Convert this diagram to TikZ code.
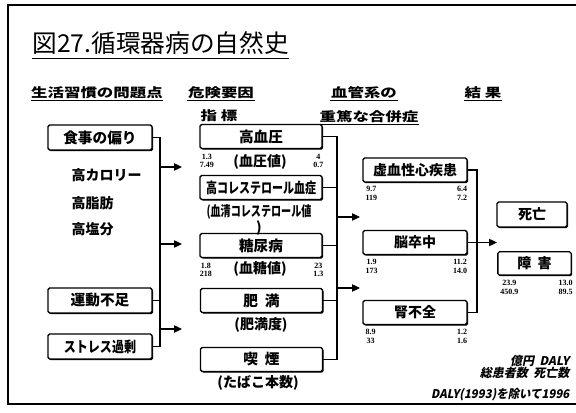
\documentclass[tikz,border=0pt]{standalone}
\usepackage{fontspec}
\setmainfont{Noto Sans CJK JP}
\newfontfamily\slantjp{Noto Sans CJK JP}[FakeSlant=0.2]
\newfontfamily\numf{Liberation Serif}
\usetikzlibrary{arrows.meta,shadows}
\newcommand\hstr[1]{\scalebox{1.3}[1]{#1}}
\begin{document}
\begin{tikzpicture}[x=0.75pt,y=-0.75pt,
  line width=0.9pt,
  box/.style={draw, line width=1pt, rounded corners=1.2pt, fill=white, inner sep=0pt,
    font=\bfseries\fontsize{11}{12}\selectfont,
    drop shadow={shadow xshift=0.8pt, shadow yshift=-0.8pt, fill=black, opacity=1}},
  lbox/.style={box, minimum width=78pt, minimum height=18.75pt},
  mbox/.style={box, minimum width=91.5pt, minimum height=18pt},
  rbox/.style={box, minimum width=78pt, minimum height=18pt, font=\bfseries\fontsize{10.5}{12}\selectfont},
  hdr/.style={font=\bfseries\fontsize{9.5}{11}\selectfont, inner sep=0pt, anchor=base},
  sub/.style={font=\bfseries\fontsize{10.5}{12}\selectfont, inner sep=0pt},
  ltext/.style={font=\bfseries\fontsize{10.5}{12}\selectfont, inner sep=0pt, anchor=west},
  num/.style={font=\numf\bfseries\fontsize{6}{6.5}\selectfont, inner sep=0pt, align=center},
  foot/.style={font=\slantjp\bfseries\fontsize{9}{10}\selectfont, inner sep=0pt, anchor=base east},
  conn/.style={line width=0.9pt},
  arr/.style={line width=0.9pt, -{Triangle[length=6pt,width=5.5pt]}},
  ul/.style={line width=1pt}
]
\useasboundingbox (0,0) rectangle (576,413);
% frame
\draw[line width=1pt] (576,5) -- (8,5) -- (8,404) -- (576,404);

% title
\node[anchor=base west, inner sep=0pt, font=\fontsize{18.5}{20}\selectfont] (title) at (32,53) {図27.循環器病の自然史};
\draw[ul] ([yshift=-4pt]title.base west) -- ([yshift=-4pt]title.base east);

% headers
\node[hdr] (h1) at (97,97.5) {\hstr{生活習慣の問題点}};
\node[hdr] (h2) at (221,97.5) {\hstr{危険要因}};
\node[hdr] (h2b) at (219,121) {\hstr{指\ 標}};
\node[hdr] (h3) at (364,97.5) {\hstr{血管系の}};
\node[hdr] (h3b) at (369,121.5) {\hstr{重篤な合併症}};
\node[hdr] (h4) at (483,97.5) {\hstr{結\ 果}};
\foreach \n in {h1,h2,h3,h3b,h4}
  \draw[ul] ([yshift=-2.3pt]\n.base west) -- ([yshift=-2.3pt]\n.base east);

% left column
\node[lbox] (shoku) at (100,137.5) {食事の偏り};
\node[ltext] (t1) at (71,175) {高カロリー};
\node[ltext] (t2) at (71,203) {高脂肪};
\node[ltext] (t3) at (71,229) {高塩分};
\node[lbox] (undou) at (100,300.5) {運動不足};
\node[lbox] (stress) at (100,346.5) {\scalebox{0.82}[1]{ストレス過剰}};

\coordinate (lbus) at (160,346.5);
\draw[conn] (shoku.east) -| (lbus) -- (stress.east);
\draw[conn] (undou.east) -- (undou.east -| lbus);
\coordinate (la1) at (160,167); \coordinate (la1e) at (182,167);
\coordinate (la2) at (160,244); \coordinate (la2e) at (182,244);
\coordinate (la3) at (160,329); \coordinate (la3e) at (182,329);
\draw[arr] (la1) -- (la1e);
\draw[arr] (la2) -- (la2e);
\draw[arr] (la3) -- (la3e);

% middle column
\node[mbox] (kouketsu) at (261,136.5) {高血圧};
\node[mbox] (chol) at (261,187.5) {\scalebox{0.75}[1]{高コレステロール血症}};
\node[mbox] (tou) at (261,245.5) {糖尿病};
\node[mbox] (himan) at (261.5,300.5) {肥\ \ 満};
\node[mbox] (kitsu) at (261.5,359.5) {喫\ \ 煙};

\node[sub] (s1) at (260,162) {(血圧値)};
\node[sub, align=center] (s2) at (259,220) {\scalebox{0.72}[1]{(血清コレステロール値}\\)};
\node[sub] (s3) at (260,269) {(血糖値)};
\node[sub] (s4) at (261,325) {(肥満度)};
\node[sub] (s5) at (258,383) {(たばこ本数)};

\node[num, anchor=north west] (n1a) at ([yshift=-3pt]kouketsu.south west) {1.3\\7.49};
\node[num, anchor=north east] (n1b) at ([yshift=-3pt,xshift=1pt]kouketsu.south east) {4\\0.7};
\node[num, anchor=north west] (n2a) at ([yshift=-3pt]tou.south west) {1.8\\218};
\node[num, anchor=north east] (n2b) at ([yshift=-3pt,xshift=1pt]tou.south east) {23\\1.3};

\coordinate (mbus) at (337,359.5);
\draw[conn] (kouketsu.east) -| (mbus) -- (kitsu.east);
\draw[conn] (chol.east) -- (chol.east -| mbus);
\draw[conn] (tou.east) -- (tou.east -| mbus);
\draw[conn] (himan.east) -- (himan.east -| mbus);
\coordinate (ma1) at (337,217); \coordinate (ma1e) at (360,217);
\coordinate (ma2) at (337,288); \coordinate (ma2e) at (360,288);
\draw[arr] (ma1) -- (ma1e);
\draw[arr] (ma2) -- (ma2e);

% right column
\node[rbox] (kyo) at (415,170) {虚血性心疾患};
\node[rbox] (nou) at (415,242.5) {脳卒中};
\node[rbox] (jin) at (415,312.5) {腎不全};

\node[num, anchor=north west] (n3a) at ([yshift=-2.5pt,xshift=2pt]kyo.south west) {9.7\\119};
\node[num, anchor=north east] (n3b) at ([yshift=-2.5pt]kyo.south east) {6.4\\7.2};
\node[num, anchor=north west] (n4a) at ([yshift=-2.5pt,xshift=2pt]nou.south west) {1.9\\173};
\node[num, anchor=north east] (n4b) at ([yshift=-2.5pt]nou.south east) {11.2\\14.0};
\node[num, anchor=north west] (n5a) at ([yshift=-2.5pt,xshift=2pt]jin.south west) {8.9\\33};
\node[num, anchor=north east] (n5b) at ([yshift=-2.5pt]jin.south east) {1.2\\1.6};

\coordinate (rbus) at (477,312.5);
\draw[conn] (kyo.east) -| (rbus) -- (jin.east);
\coordinate (rae) at (497,242.5);
\draw[arr] (nou.east) -- (rae);

% results
\node[box, minimum width=52.5pt, minimum height=18.75pt, font=\bfseries\fontsize{10.5}{12}\selectfont] (shibou) at (532,214.5) {死亡};
\node[box, minimum width=55pt, minimum height=17.5pt, font=\bfseries\fontsize{10.5}{12}\selectfont] (shougai) at (534.5,263.5) {障\ \ 害};
\node[num, anchor=north west] (n6a) at ([yshift=-3pt,xshift=2pt]shougai.south west) {23.9\\450.9};
\node[num, anchor=north east] (n6b) at ([yshift=-3pt,xshift=1pt]shougai.south east) {13.0\\89.5};

% footnote
\node[foot] (f1) at (570,366) {億円\ \ DALY};
\node[foot] (f2) at (570,377.5) {総患者数\ \ 死亡数};
\node[foot] (f3) at (570,399) {\scalebox{0.95}[1]{DALY(1993)を除いて1996}};
\end{tikzpicture}
\end{document}
